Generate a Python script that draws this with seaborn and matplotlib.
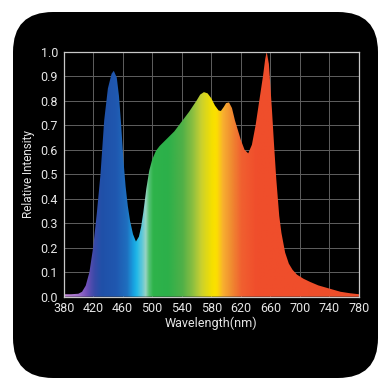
import numpy as np
import pandas as pd
import matplotlib
matplotlib.use("Agg")
import matplotlib.pyplot as plt
import seaborn as sns
from matplotlib.patches import FancyBboxPatch
from matplotlib.colors import LinearSegmentedColormap

# ---- data ----
wavelength = [380, 390, 400, 405, 410, 415, 420, 425, 430, 435, 440, 445, 448,
              452, 455, 458, 461, 464, 467, 470, 474, 478, 482, 485, 488,
              492, 496, 500, 505, 510, 515, 520, 530, 540, 550, 560, 565, 570, 575,
              580, 585, 590, 593, 597, 600, 604, 608, 612, 616, 620, 625, 630,
              635, 640, 645, 650, 653, 655, 658, 662, 665, 668, 672, 675, 680, 685,
              690, 696, 705, 714, 725, 740, 755, 768, 780]
intensity = [0.010, 0.010, 0.012, 0.020, 0.045, 0.100, 0.200, 0.340, 0.500, 0.720,
             0.850, 0.910, 0.922, 0.895, 0.820, 0.700, 0.560, 0.450, 0.370, 0.310,
             0.255, 0.225, 0.245, 0.285, 0.345, 0.440, 0.515, 0.560, 0.595,
             0.615, 0.630, 0.645, 0.675, 0.715, 0.755, 0.800, 0.825, 0.835, 0.830, 0.810,
             0.780, 0.760, 0.758, 0.775, 0.790, 0.793, 0.770, 0.720, 0.680, 0.640,
             0.600, 0.585, 0.620, 0.700, 0.800, 0.900, 0.970, 1.000, 0.950, 0.770,
             0.620, 0.480, 0.330, 0.260, 0.180, 0.135, 0.110, 0.090, 0.073, 0.060,
             0.046, 0.033, 0.020, 0.014, 0.010]

x_ticks = [380, 420, 460, 500, 540, 580, 620, 660, 700, 740, 780]
y_ticks = [0.0, 0.1, 0.2, 0.3, 0.4, 0.5, 0.6, 0.7, 0.8, 0.9, 1.0]

# spectrum colour stops (wavelength, colour)
stop_nm = [380, 400, 410, 420, 430, 450, 465, 473, 478, 485, 490, 495, 500,
           520, 540, 555, 565, 580, 586, 595, 605, 620, 640, 780]
stop_col = ["#c48ad8", "#9a6cc8", "#7050b8", "#3a4aa8", "#2050a8", "#1f58b0",
            "#1f70c0", "#18a0e0", "#20b8e8", "#60c8d8", "#98d4c4", "#50c070",
            "#2eb34a", "#2cb04a", "#50b048", "#90c040", "#c8d030", "#f5e000",
            "#fce000", "#f8b030", "#f09030", "#f06030", "#f04e2c", "#ee4e2a"]

df = pd.DataFrame({"Wavelength": wavelength, "Intensity": intensity})

sns.set_style("dark")
plt.rcParams["font.family"] = ["Roboto", "DejaVu Sans"]

fig = plt.figure(figsize=(3.9, 3.85), dpi=100)
fig.patch.set_facecolor("white")

box = FancyBboxPatch((0.13 + 0.4, 0.07 + 0.4), 3.65 - 0.8, 3.66 - 0.8,
                     boxstyle="round,pad=0.4", transform=fig.dpi_scale_trans,
                     facecolor="black", edgecolor="none", zorder=-1)
fig.patches.append(box)

ax = fig.add_axes([0.163, 0.2294, 0.9205 - 0.163, 0.8657 - 0.2294])
ax.set_facecolor("black")

sns.lineplot(data=df, x="Wavelength", y="Intensity", ax=ax, linewidth=0,
             color="white")

poly = ax.fill_between(df["Wavelength"], 0, df["Intensity"],
                       facecolor="none", edgecolor="none")

lo, hi = stop_nm[0], stop_nm[-1]
cmap = LinearSegmentedColormap.from_list(
    "spec", [((n - lo) / (hi - lo), c) for n, c in zip(stop_nm, stop_col)])
grad = np.linspace(0, 1, 800).reshape(1, -1)
img = ax.imshow(grad, cmap=cmap, extent=[lo, hi, 0, 1], aspect="auto",
                origin="lower", zorder=2, interpolation="bilinear")
path = poly.get_paths()[0]
img.set_clip_path(path, transform=ax.transData)

ax.set_xlim(380, 780)
ax.set_ylim(0, 1.0)
ax.set_xticks(x_ticks)
ax.set_yticks(y_ticks)
ax.set_xticklabels([str(t) for t in x_ticks])
ax.set_yticklabels([f"{t:.1f}" for t in y_ticks])
ax.grid(True, color="#5f5f5f", linewidth=0.7)
ax.set_axisbelow(True)
for s in ax.spines.values():
    s.set_visible(True)
    s.set_color("#c8c8c8")
    s.set_linewidth(0.9)
    s.set_zorder(5)
ax.tick_params(axis="both", colors="#e6e6e6", labelsize=9, length=0, pad=4)
ax.set_xlabel("Wavelength(nm)", color="#e6e6e6", fontsize=9, labelpad=1)
ax.set_ylabel("Relative Intensity", color="#e6e6e6", fontsize=8.5, labelpad=4)

fig.savefig("out.png", dpi=100, facecolor="white")
